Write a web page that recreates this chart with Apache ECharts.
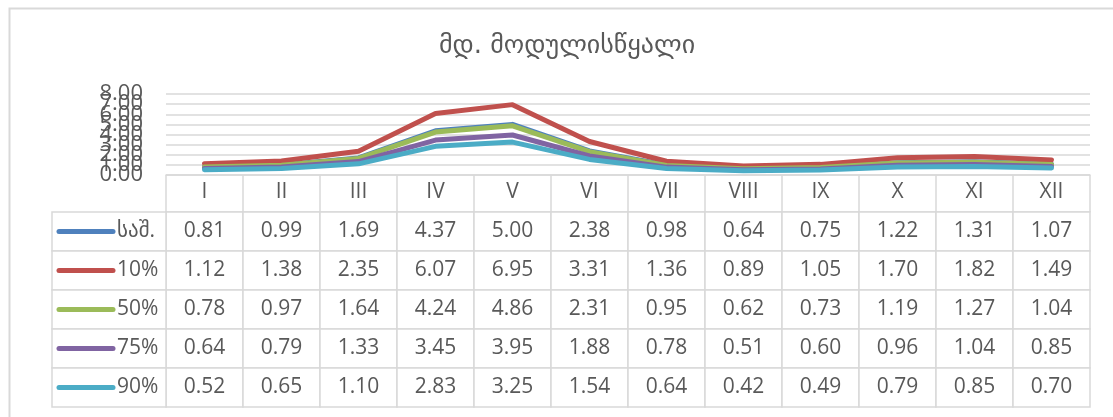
<!DOCTYPE html>
<html>
<head>
<meta charset="utf-8">
<script src="https://cdn.jsdelivr.net/npm/echarts@6/dist/echarts.min.js"></script>
<style>
  html, body { margin: 0; padding: 0; background: #fff; }
  #chart { width: 1113px; height: 417px; }
</style>
</head>
<body>
<div id="chart"></div>
<script>
// Monthly discharge of the Modulistsqali river: mean and exceedance probabilities
const months = ['I', 'II', 'III', 'IV', 'V', 'VI', 'VII', 'VIII', 'IX', 'X', 'XI', 'XII'];
const seriesNames = ['საშ.', '10%', '50%', '75%', '90%'];
const meanFlow = [0.81, 0.99, 1.69, 4.37, 5.00, 2.38, 0.98, 0.64, 0.75, 1.22, 1.31, 1.07];
const flow10 = [1.12, 1.38, 2.35, 6.07, 6.95, 3.31, 1.36, 0.89, 1.05, 1.70, 1.82, 1.49];
const flow50 = [0.78, 0.97, 1.64, 4.24, 4.86, 2.31, 0.95, 0.62, 0.73, 1.19, 1.27, 1.04];
const flow75 = [0.64, 0.79, 1.33, 3.45, 3.95, 1.88, 0.78, 0.51, 0.60, 0.96, 1.04, 0.85];
const flow90 = [0.52, 0.65, 1.10, 2.83, 3.25, 1.54, 0.64, 0.42, 0.49, 0.79, 0.85, 0.70];
const yMin = 0, yMax = 8, yStep = 1;

const seriesValues = [meanFlow, flow10, flow50, flow75, flow90];
const colors = ['#4F81BD', '#C0504D', '#9BBB59', '#8064A2', '#4BACC6'];

const gridColor = '#d9d9d9';
const textColor = '#595959';
const numFont = '"Open Sans", "DejaVu Sans", sans-serif';

// Cells of the data table: [month index, series index, value]
const tableCells = [];
seriesValues.forEach((vals, r) => vals.forEach((v, c) => tableCells.push([c, r, v])));
const legendCells = seriesNames.map((n, r) => [0, r]);

const chart = echarts.init(document.getElementById('chart'), null, { renderer: 'canvas' });

const lineSeries = seriesNames.map((name, i) => ({
  name: name,
  type: 'line',
  xAxisIndex: 0,
  yAxisIndex: 0,
  data: seriesValues[i],
  symbol: 'none',
  smooth: false,
  itemStyle: { color: colors[i] },
  lineStyle: { color: colors[i], width: 5, cap: 'round', join: 'round' },
  z: 3 + i
}));

const yLabelStyle = { fontSize: 22, color: textColor, fontFamily: numFont, margin: 23 };

chart.setOption({
  animation: false,
  backgroundColor: '#ffffff',
  title: {
    text: 'მდ. მოდულისწყალი',
    left: 562,
    textAlign: 'center',
    top: 28,
    textStyle: { fontSize: 26, fontWeight: 'normal', color: textColor, fontFamily: '"DejaVu Sans", "Noto Sans", sans-serif' }
  },
  graphic: [{
    type: 'rect',
    left: 7, top: 6,
    shape: { width: 1200, height: 500 },
    style: { fill: 'none', stroke: gridColor, lineWidth: 2 },
    silent: true, z: -1
  }],
  grid: [
    { left: 166, right: 23, top: 94, height: 81 },
    { left: 166, right: 23, top: 212, height: 195 },
    { left: 52, width: 114, top: 212, height: 195 }
  ],
  xAxis: [
    {
      type: 'category', gridIndex: 0, data: months, boundaryGap: true,
      axisLine: { show: true, lineStyle: { color: gridColor, width: 1.5 } },
      axisTick: { show: false }, axisLabel: { show: false }
    },
    {
      type: 'category', gridIndex: 1, data: months, position: 'top', boundaryGap: true,
      axisLine: { show: true, lineStyle: { color: gridColor, width: 1.5 } },
      axisTick: { show: true, length: 37, interval: 0, lineStyle: { color: gridColor, width: 1.5 } },
      axisLabel: { show: true, interval: 0, margin: 9, fontSize: 21, color: textColor, fontFamily: numFont }
    },
    {
      type: 'category', gridIndex: 2, data: [''], show: false
    }
  ],
  yAxis: [
    {
      // inner ticks 1..7 with gridlines
      type: 'value', gridIndex: 0, position: 'left', min: yMin, max: yMax, interval: yStep,
      axisLine: { show: false }, axisTick: { show: false },
      axisLabel: Object.assign({ formatter: v => v.toFixed(2) }, yLabelStyle),
      splitLine: { lineStyle: { color: gridColor, width: 1.5 } }
    },
    {
      // end ticks (min and max) drawn on a twin axis so they are not dropped
      type: 'value', gridIndex: 0, position: 'left', offset: 0, min: yMin, max: yMax, interval: yStep,
      axisLine: { show: false }, axisTick: { show: false }, splitLine: { show: false },
      axisLabel: Object.assign({
        formatter: v => (v === yMin || v === yMax) ? v.toFixed(2) : '',
        showMinLabel: true, showMaxLabel: true
      }, yLabelStyle)
    },
    { type: 'category', gridIndex: 1, data: seriesNames, inverse: true, show: false },
    { type: 'category', gridIndex: 2, data: seriesNames, inverse: true, show: false }
  ],
  series: lineSeries.concat([
    {
      type: 'custom',
      xAxisIndex: 1, yAxisIndex: 2,
      data: tableCells,
      encode: { x: 0, y: 1 },
      silent: true,
      renderItem: function (params, api) {
        const c = api.coord([api.value(0), api.value(1)]);
        const s = api.size([1, 1]);
        return {
          type: 'group',
          children: [
            { type: 'rect', shape: { x: c[0] - s[0] / 2, y: c[1] - s[1] / 2, width: s[0], height: s[1] },
              style: { fill: '#fff', stroke: gridColor, lineWidth: 1.5 } },
            { type: 'text', style: { x: c[0], y: c[1], text: api.value(2).toFixed(2), align: 'center', verticalAlign: 'middle',
              fontSize: 21, fontFamily: numFont, fill: textColor } }
          ]
        };
      }
    },
    {
      type: 'custom',
      xAxisIndex: 2, yAxisIndex: 3,
      data: legendCells,
      encode: { x: 0, y: 1 },
      silent: true,
      renderItem: function (params, api) {
        const c = api.coord([api.value(0), api.value(1)]);
        const s = api.size([1, 1]);
        const i = params.dataIndex;
        return {
          type: 'group',
          children: [
            { type: 'rect', shape: { x: c[0] - s[0] / 2, y: c[1] - s[1] / 2, width: s[0], height: s[1] },
              style: { fill: '#fff', stroke: gridColor, lineWidth: 1.5 } },
            { type: 'line', shape: { x1: c[0] - 50, y1: c[1], x2: c[0] + 4, y2: c[1] },
              style: { stroke: colors[i], lineWidth: 5, lineCap: 'round' } },
            { type: 'text', style: { x: c[0] + 8, y: c[1], text: seriesNames[i], align: 'left', verticalAlign: 'middle',
              fontSize: 21, fontFamily: numFont, fill: textColor } }
          ]
        };
      }
    }
  ])
});
</script>
</body>
</html>
